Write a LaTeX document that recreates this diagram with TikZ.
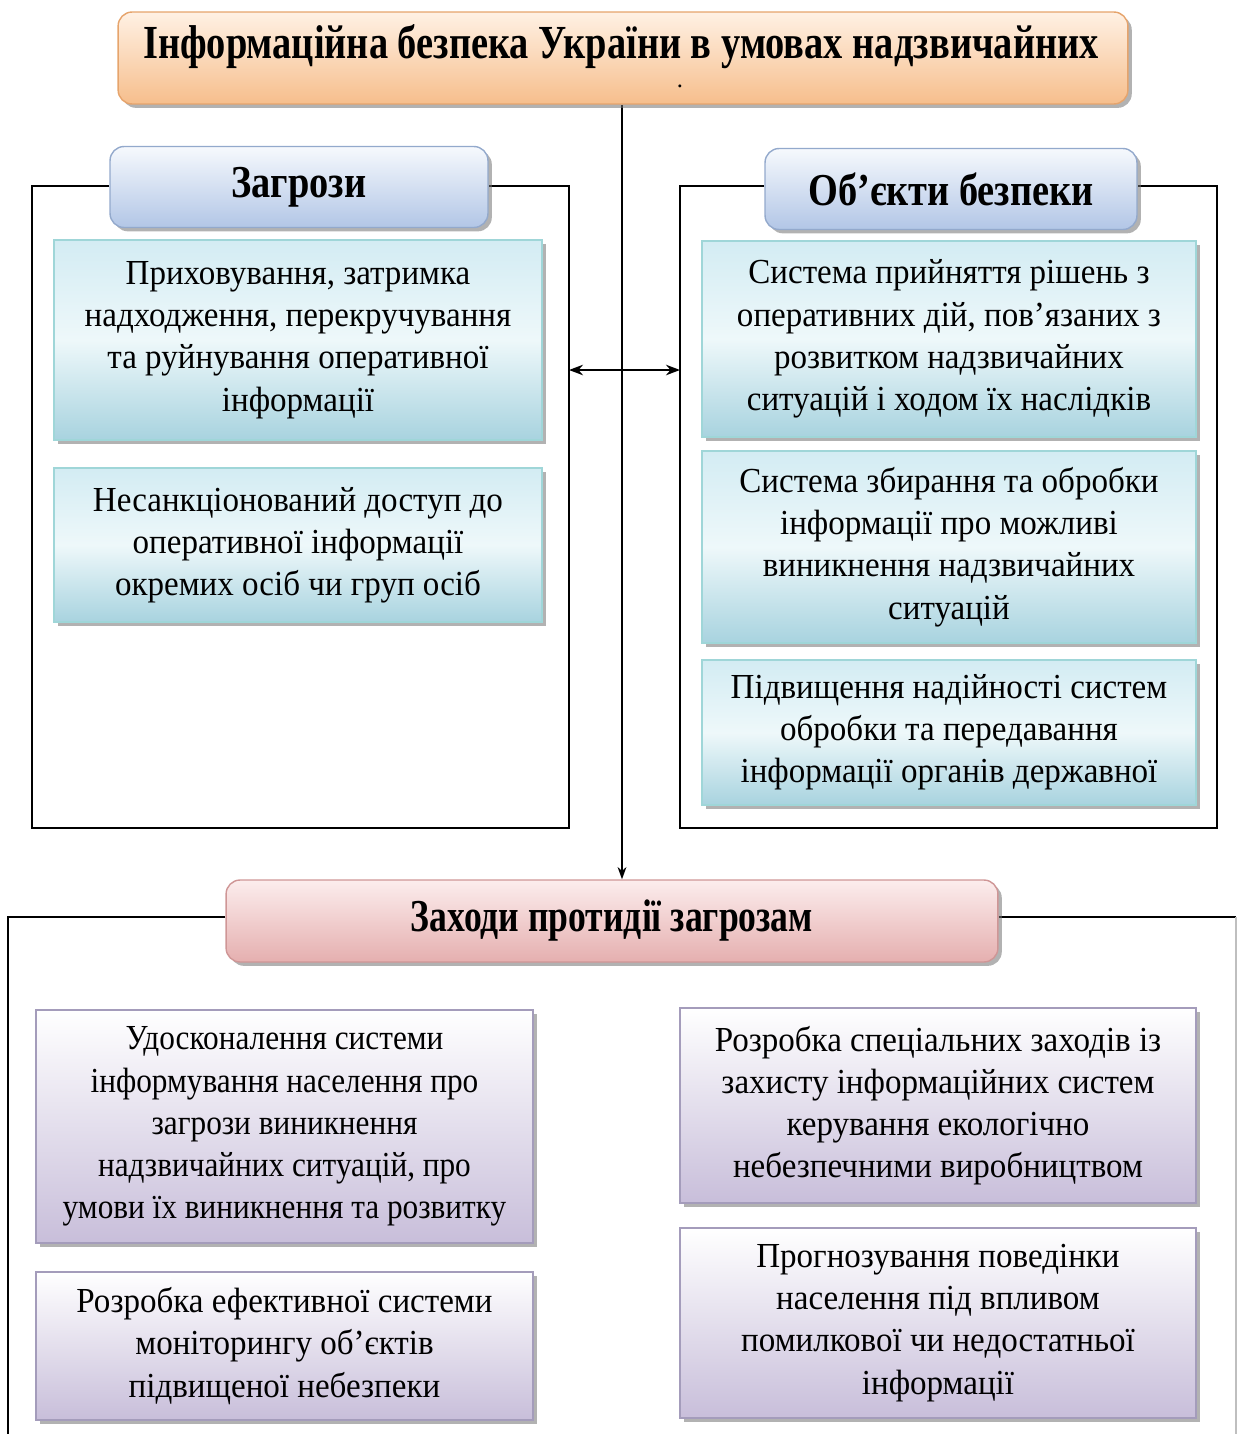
\documentclass[tikz,border=0pt]{standalone}
\usepackage{fontspec}
\setmainfont{Liberation Serif}
\newfontfamily\bodyfont[FakeStretch=0.94]{Liberation Serif}
\newfontfamily\bodynarrow[FakeStretch=0.89]{Liberation Serif}
\newfontfamily\headfont[FakeStretch=0.84]{Liberation Serif}
\newfontfamily\headnarrow[FakeStretch=0.78]{Liberation Serif}
\newfontfamily\titlefont[FakeStretch=0.81]{Liberation Serif}
\usetikzlibrary{arrows.meta,shadows}
\pgfdeclarelayer{background}
\pgfsetlayers{background,main}
\definecolor{ttop}{HTML}{FFF1E4}
\definecolor{tbot}{HTML}{F6BE8C}
\definecolor{tbrd}{HTML}{E6A46C}
\definecolor{btop}{HTML}{F6F9FD}
\definecolor{bbot}{HTML}{B2C6E6}
\definecolor{bbrd}{HTML}{93A9CC}
\definecolor{ctop}{HTML}{D3ECF3}
\definecolor{cmid}{HTML}{EEF8FA}
\definecolor{cbot}{HTML}{A8D3DF}
\definecolor{cbrd}{HTML}{9FD6D8}
\definecolor{ptop}{HTML}{FCEDED}
\definecolor{pbot}{HTML}{E5AFAF}
\definecolor{pbrd}{HTML}{CF9696}
\definecolor{vtop}{HTML}{FFFFFF}
\definecolor{vbot}{HTML}{C8BEDA}
\definecolor{vbrd}{HTML}{A49CBB}
\tikzset{
  shad/.style={drop shadow={shadow xshift=2.2pt, shadow yshift=-2.2pt, fill=black!55, opacity=0.55}},
  titlebox/.style={draw=tbrd, line width=0.8pt, rounded corners=8pt, top color=ttop, bottom color=tbot, shad},
  headblue/.style={draw=bbrd, line width=0.8pt, rounded corners=8pt, top color=btop, bottom color=bbot, shad,
     font=\headfont\bfseries\fontsize{26}{30}\selectfont},
  headpink/.style={draw=pbrd, line width=0.8pt, rounded corners=8pt, top color=ptop, bottom color=pbot, shad,
     font=\headnarrow\bfseries\fontsize{26}{30}\selectfont},
  cyanbox/.style={draw=cbrd, line width=0.8pt, top color=ctop, bottom color=cbot, middle color=cmid, shad,
     align=center, font=\bodyfont\fontsize{20}{24}\selectfont},
  violetbox/.style={draw=vbrd, line width=0.8pt, top color=vtop, bottom color=vbot, shad,
     align=center, font=\bodyfont\fontsize{20}{24}\selectfont},
  frame/.style={draw=black, line width=0.8pt},
  conn/.style={draw=black, line width=1pt}
}
\begin{document}
\begin{tikzpicture}[x=0.02cm,y=-0.02cm]
\useasboundingbox (0,0) rectangle (1237,1434);
% title
\node[titlebox, minimum width=20.2cm, minimum height=1.84cm] (title) at (623,58) {};
\node[font=\titlefont\bfseries\fontsize{27}{32}\selectfont, inner sep=0pt] (titletext) at (621,47) {Інформаційна безпека України в умовах надзвичайних};
\node[font=\fontsize{14}{16}\selectfont, inner sep=0pt] (titledot) at (680,86) {.};
% headers
\node[headblue, minimum width=7.56cm, minimum height=1.62cm] (zag) at (299,187) {Загрози};
\node[headblue, minimum width=7.44cm, minimum height=1.62cm] (obj) at (951,189) {Об’єкти безпеки};
\node[headpink, minimum width=15.44cm, minimum height=1.64cm] (zah) at (612,921) {Заходи протидії загрозам};
% frame corners
\coordinate (a1) at (32,186);
\coordinate (a2) at (32,828);
\coordinate (a3) at (569,828);
\coordinate (a4) at (569,186);
\coordinate (b1) at (680,186);
\coordinate (b2) at (680,828);
\coordinate (b3) at (1217,828);
\coordinate (b4) at (1217,186);
\coordinate (c1) at (8,917);
\coordinate (c2) at (8,1434);
\coordinate (c3) at (1236,917);
\coordinate (c4) at (1236,1434);
\coordinate (la) at (569,370);
\coordinate (ra) at (680,370);
% left boxes
\node[cyanbox, minimum width=9.76cm, minimum height=4cm] (l1) at (298,340)
  {Приховування, затримка\\надходження, перекручування\\та руйнування оперативної\\інформації};
\node[cyanbox, minimum width=9.76cm, minimum height=3.08cm] (l2) at (298,545)
  {Несанкціонований доступ до\\оперативної інформації\\окремих осіб чи груп осіб};
% right boxes
\node[cyanbox, minimum width=9.88cm, minimum height=3.92cm] (r1) at (949,339)
  {Система прийняття рішень з\\оперативних дій, пов’язаних з\\розвитком надзвичайних\\ситуацій і ходом їх наслідків};
\node[cyanbox, minimum width=9.88cm, minimum height=3.84cm] (r2) at (949,547)
  {Система збирання та обробки\\інформації про можливі\\виникнення надзвичайних\\ситуацій};
\node[cyanbox, minimum width=9.88cm, minimum height=2.9cm] (r3) at (949,732.5)
  {Підвищення надійності систем\\обробки та передавання\\інформації органів державної};
% bottom boxes
\node[violetbox, minimum width=9.94cm, minimum height=4.66cm, font=\bodynarrow\fontsize{20}{24}\selectfont] (m1) at (284.5,1126.5)
  {Удосконалення системи\\інформування населення про\\загрози виникнення\\надзвичайних ситуацій, про\\умови їх виникнення та розвитку};
\node[violetbox, minimum width=9.94cm, minimum height=2.96cm] (m2) at (284.5,1346)
  {Розробка ефективної системи\\моніторингу об’єктів\\підвищеної небезпеки};
\node[violetbox, minimum width=10.32cm, minimum height=3.9cm] (m3) at (938,1105.5)
  {Розробка спеціальних заходів із\\захисту інформаційних систем\\керування екологічно\\небезпечними виробництвом};
\node[violetbox, minimum width=10.32cm, minimum height=3.8cm] (m4) at (938,1323)
  {Прогнозування поведінки\\населення під впливом\\помилкової чи недостатньої\\інформації};
\begin{pgfonlayer}{background}
\draw[frame] (a1 -| zag.west) -- (a1) -- (a2) -- (a3) -- (a4) -- (a4 -| zag.east);
\draw[frame] (b1 -| obj.west) -- (b1) -- (b2) -- (b3) -- (b4) -- (b4 -| obj.east);
\draw[frame] (c1 -| zah.west) -- (c1) -- (c2);
\draw[frame] (c3 -| zah.east) -- (c3);
\draw[draw=black!25, line width=0.6pt] (c3) -- (c4);
\draw[conn, -{Stealth[length=7pt,width=5pt]}] (title.south -| 622,0) -- (zah.north -| 622,0);
\draw[conn, {Stealth[length=8pt,width=6pt]}-{Stealth[length=8pt,width=6pt]}] (la) -- (ra);
\end{pgfonlayer}
\end{tikzpicture}
\end{document}
